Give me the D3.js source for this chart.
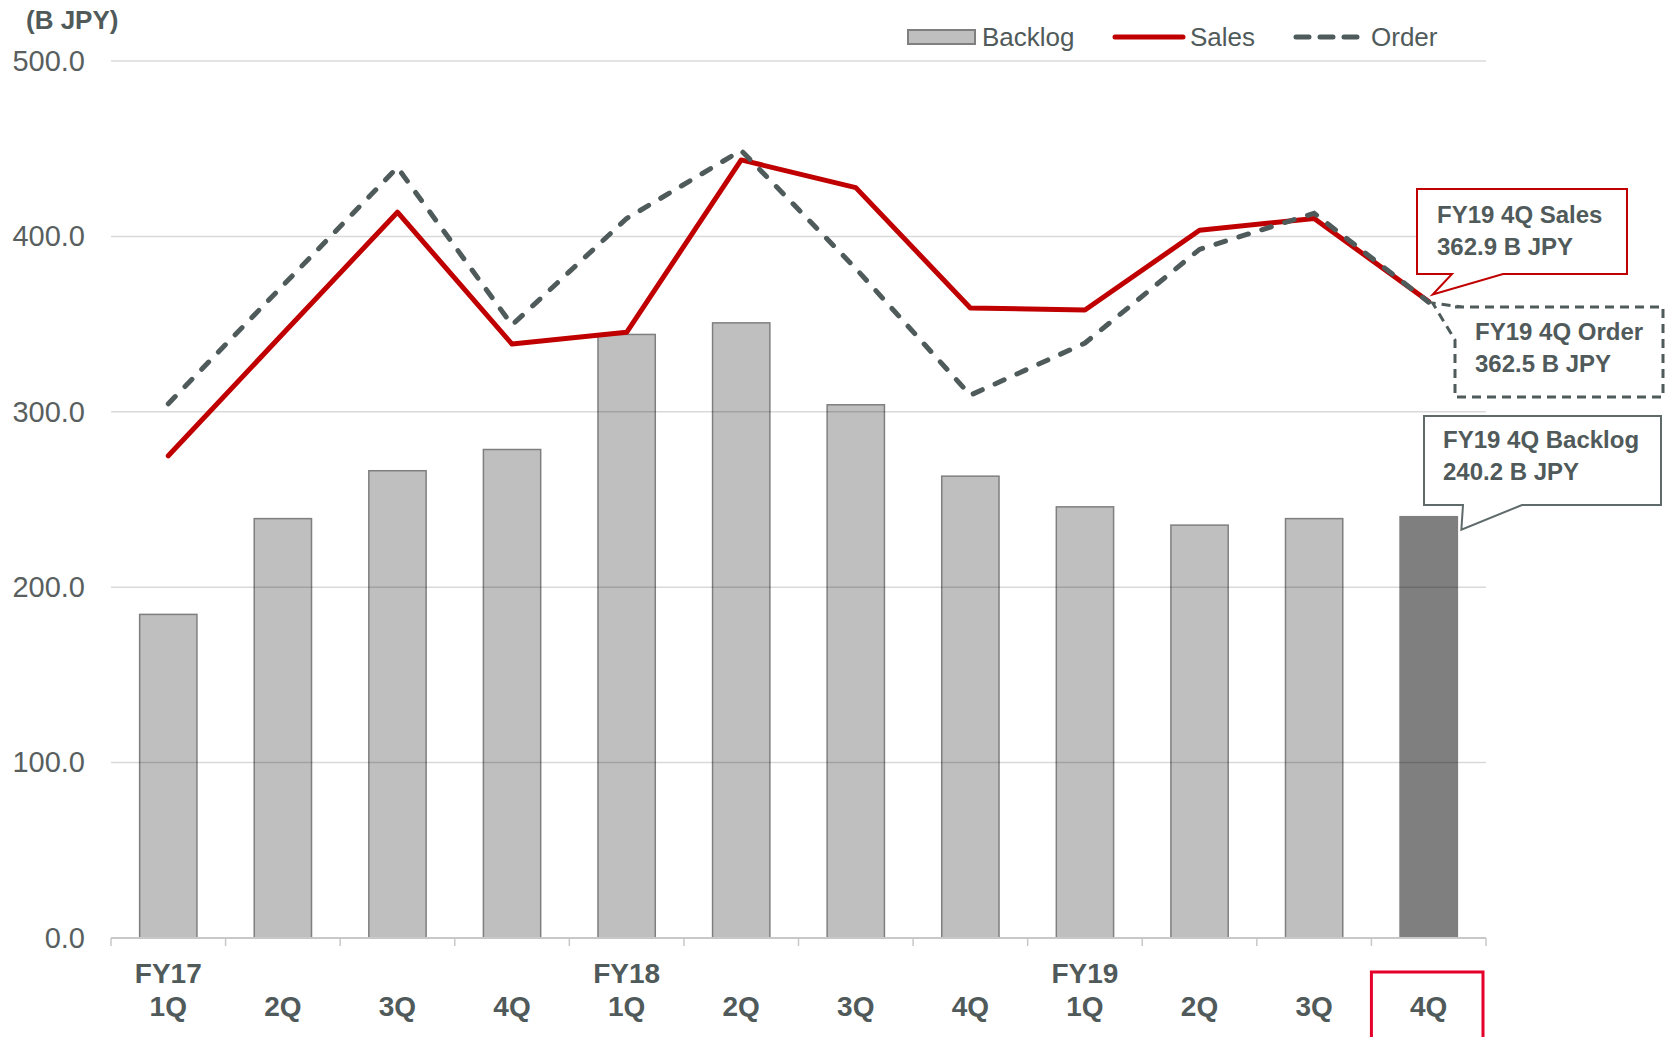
<!DOCTYPE html>
<html>
<head>
<meta charset="utf-8">
<script src="https://cdn.jsdelivr.net/npm/d3@7"></script>
<style>
  html, body { margin: 0; padding: 0; background: #ffffff; }
  svg { display: block; font-family: "Liberation Sans", Arial, sans-serif; }
</style>
</head>
<body>
<svg id="chart" width="1669" height="1037"></svg>
<script>
// Quarterly periods, FY17 1Q .. FY19 4Q
const periods = ["FY17 1Q","FY17 2Q","FY17 3Q","FY17 4Q","FY18 1Q","FY18 2Q","FY18 3Q","FY18 4Q","FY19 1Q","FY19 2Q","FY19 3Q","FY19 4Q"];
const quarterLabels = ["1Q","2Q","3Q","4Q","1Q","2Q","3Q","4Q","1Q","2Q","3Q","4Q"];
const yearLabels = ["FY17","","","","FY18","","","","FY19","","",""];

// Values in billions of JPY
const backlog = [184.5, 239.1, 266.4, 278.5, 344.1, 350.7, 304.0, 263.3, 245.8, 235.4, 239.1, 240.2];
const sales   = [274.9, 344.5, 413.8, 338.6, 345.3, 443.6, 427.8, 359.2, 358.0, 403.5, 410.2, 362.9];
const orders  = [304.6, 372.0, 439.3, 349.5, 410.2, 449.0, 381.7, 309.5, 339.2, 392.6, 413.2, 362.5];

const yTicks = [0, 100, 200, 300, 400, 500];
const unitLabel = "(B JPY)";

const svg = d3.select("#chart");
const textColor = "#505a5a";

const plotLeft = 111, plotRight = 1486, plotTop = 61, plotBottom = 938;

const x = d3.scaleBand().domain(periods).range([plotLeft, plotRight]).paddingInner(0.5).paddingOuter(0.25);
const y = d3.scaleLinear().domain([0, 500]).range([plotBottom, plotTop]);
const step = x.step(), bw = x.bandwidth();
const gap = (step - bw) / 2;

// Bars
svg.append("g").selectAll("rect")
  .data(backlog)
  .join("rect")
  .attr("x", (d, i) => x(periods[i]))
  .attr("y", d => y(d))
  .attr("width", bw)
  .attr("height", d => y(0) - y(d))
  .attr("fill", (d, i) => i === backlog.length - 1 ? "#7f7f7f" : "#bfbfbf")
  .attr("stroke", "#7f7f7f")
  .attr("stroke-width", 1.5);

// Horizontal gridlines (drawn over bars, translucent)
svg.append("g").selectAll("line")
  .data(yTicks.filter(t => t > 0))
  .join("line")
  .attr("x1", plotLeft).attr("x2", plotRight)
  .attr("y1", d => y(d)).attr("y2", d => y(d))
  .attr("stroke", "rgba(0,0,0,0.15)")
  .attr("stroke-width", 1.5);

// Y axis labels
const yAxis = d3.axisLeft(y).tickValues(yTicks).tickFormat(d3.format(".1f")).tickSize(0).tickPadding(26);
const gy = svg.append("g").attr("transform", `translate(${plotLeft},0)`).call(yAxis);
gy.select(".domain").remove();
gy.selectAll("text")
  .attr("fill", "#595f5f")
  .style("font-size", "29px")
  .style("font-family", "'Liberation Sans', Arial, sans-serif");

svg.append("text")
  .attr("x", 26).attr("y", 29)
  .attr("fill", textColor)
  .style("font-size", "26px").style("font-weight", "bold")
  .text(unitLabel);

// X axis baseline and boundary ticks
svg.append("line")
  .attr("x1", plotLeft).attr("x2", plotRight)
  .attr("y1", y(0)).attr("y2", y(0))
  .attr("stroke", "#c8c8c8").attr("stroke-width", 2);
const boundaries = periods.map(p => x(p) - gap).concat([plotRight]);
svg.append("g").selectAll("line")
  .data(boundaries)
  .join("line")
  .attr("x1", d => d).attr("x2", d => d)
  .attr("y1", y(0)).attr("y2", y(0) + 8)
  .attr("stroke", "#c8c8c8").attr("stroke-width", 1.5);

// Category labels
const gx = svg.append("g").style("font-weight", "bold").style("font-size", "28px").attr("fill", textColor).attr("text-anchor", "middle");
gx.selectAll("text.yr")
  .data(yearLabels)
  .join("text").attr("class", "yr")
  .attr("x", (d, i) => x(periods[i]) + bw / 2)
  .attr("y", 983)
  .text(d => d);
gx.selectAll("text.q")
  .data(quarterLabels)
  .join("text").attr("class", "q")
  .attr("x", (d, i) => x(periods[i]) + bw / 2)
  .attr("y", 1016)
  .text(d => d);

// Highlight frame around the latest quarter label
const lastP = periods[periods.length - 1];
svg.append("rect")
  .attr("x", x(lastP) - gap).attr("y", 972)
  .attr("width", step - 3).attr("height", 90)
  .attr("fill", "none").attr("stroke", "#e5002b").attr("stroke-width", 3);

// Lines
const line = d3.line().x((d, i) => x(periods[i]) + bw / 2).y(d => y(d));
svg.append("path")
  .datum(sales)
  .attr("d", line)
  .attr("fill", "none").attr("stroke", "#c00000").attr("stroke-width", 5)
  .attr("stroke-linejoin", "round").attr("stroke-linecap", "round");
svg.append("path")
  .datum(orders)
  .attr("d", line)
  .attr("fill", "none").attr("stroke", "#4f5a5a").attr("stroke-width", 5)
  .attr("stroke-dasharray", "10,14").attr("stroke-linecap", "round");

// Legend
const lg = svg.append("g").style("font-size", "26px").attr("fill", textColor);
lg.append("rect").attr("x", 908).attr("y", 30).attr("width", 67).attr("height", 14)
  .attr("fill", "#bfbfbf").attr("stroke", "#7f7f7f").attr("stroke-width", 2);
lg.append("text").attr("x", 982).attr("y", 46).text("Backlog");
lg.append("line").attr("x1", 1115).attr("x2", 1183).attr("y1", 37).attr("y2", 37)
  .attr("stroke", "#c00000").attr("stroke-width", 5).attr("stroke-linecap", "round");
lg.append("text").attr("x", 1190).attr("y", 46).text("Sales");
lg.append("line").attr("x1", 1296).attr("x2", 1360).attr("y1", 37).attr("y2", 37)
  .attr("stroke", "#4f5a5a").attr("stroke-width", 5)
  .attr("stroke-dasharray", "13,11").attr("stroke-linecap", "round");
lg.append("text").attr("x", 1371).attr("y", 46).text("Order");

// Callouts for the latest quarter
function callout(box, tip, tailA, tailB, side, style, lines, textX, baseY) {
  const {x0, y0, x1, y1} = box;
  let d;
  if (side === "bottom") {
    d = `M${x0},${y0} L${x1},${y0} L${x1},${y1} L${tailB},${y1} L${tip[0]},${tip[1]} L${tailA},${y1} L${x0},${y1} Z`;
  } else {
    d = `M${x0},${y0} L${x1},${y0} L${x1},${y1} L${x0},${y1} L${x0},${tailB} L${tip[0]},${tip[1]} L${tailA},${y0} Z`;
  }
  const g = svg.append("g");
  g.append("path").attr("d", d).attr("fill", "#ffffff")
    .attr("stroke", style.stroke).attr("stroke-width", style.width)
    .attr("stroke-dasharray", style.dash || null).attr("stroke-linejoin", "miter");
  g.selectAll("text").data(lines).join("text")
    .attr("x", textX).attr("y", (d, i) => baseY + i * 32)
    .attr("fill", textColor)
    .style("font-size", "24px").style("font-weight", "bold")
    .text(d => d);
}

const lastIdx = periods.length - 1;
const cx = x(lastP) + bw / 2;

callout({x0: 1417, y0: 189, x1: 1627, y1: 274},
  [cx + 4, y(sales[lastIdx]) - 7], 1452, 1503, "bottom",
  {stroke: "#c00000", width: 2},
  ["FY19 4Q Sales", `${sales[lastIdx].toFixed(1)} B JPY`], 1437, 223);

callout({x0: 1455, y0: 307, x1: 1663, y1: 397},
  [cx + 4, y(orders[lastIdx]) + 1], 1463, 340, "left",
  {stroke: "#4f5a5a", width: 3, dash: "9,6"},
  ["FY19 4Q Order", `${orders[lastIdx].toFixed(1)} B JPY`], 1475, 340);

callout({x0: 1424, y0: 416, x1: 1661, y1: 505},
  [x(lastP) + bw + 4, y(backlog[lastIdx]) + 13], 1463, 1522, "bottom",
  {stroke: "#5f6a6a", width: 2},
  ["FY19 4Q Backlog", `${backlog[lastIdx].toFixed(1)} B JPY`], 1443, 448);
</script>
</body>
</html>
